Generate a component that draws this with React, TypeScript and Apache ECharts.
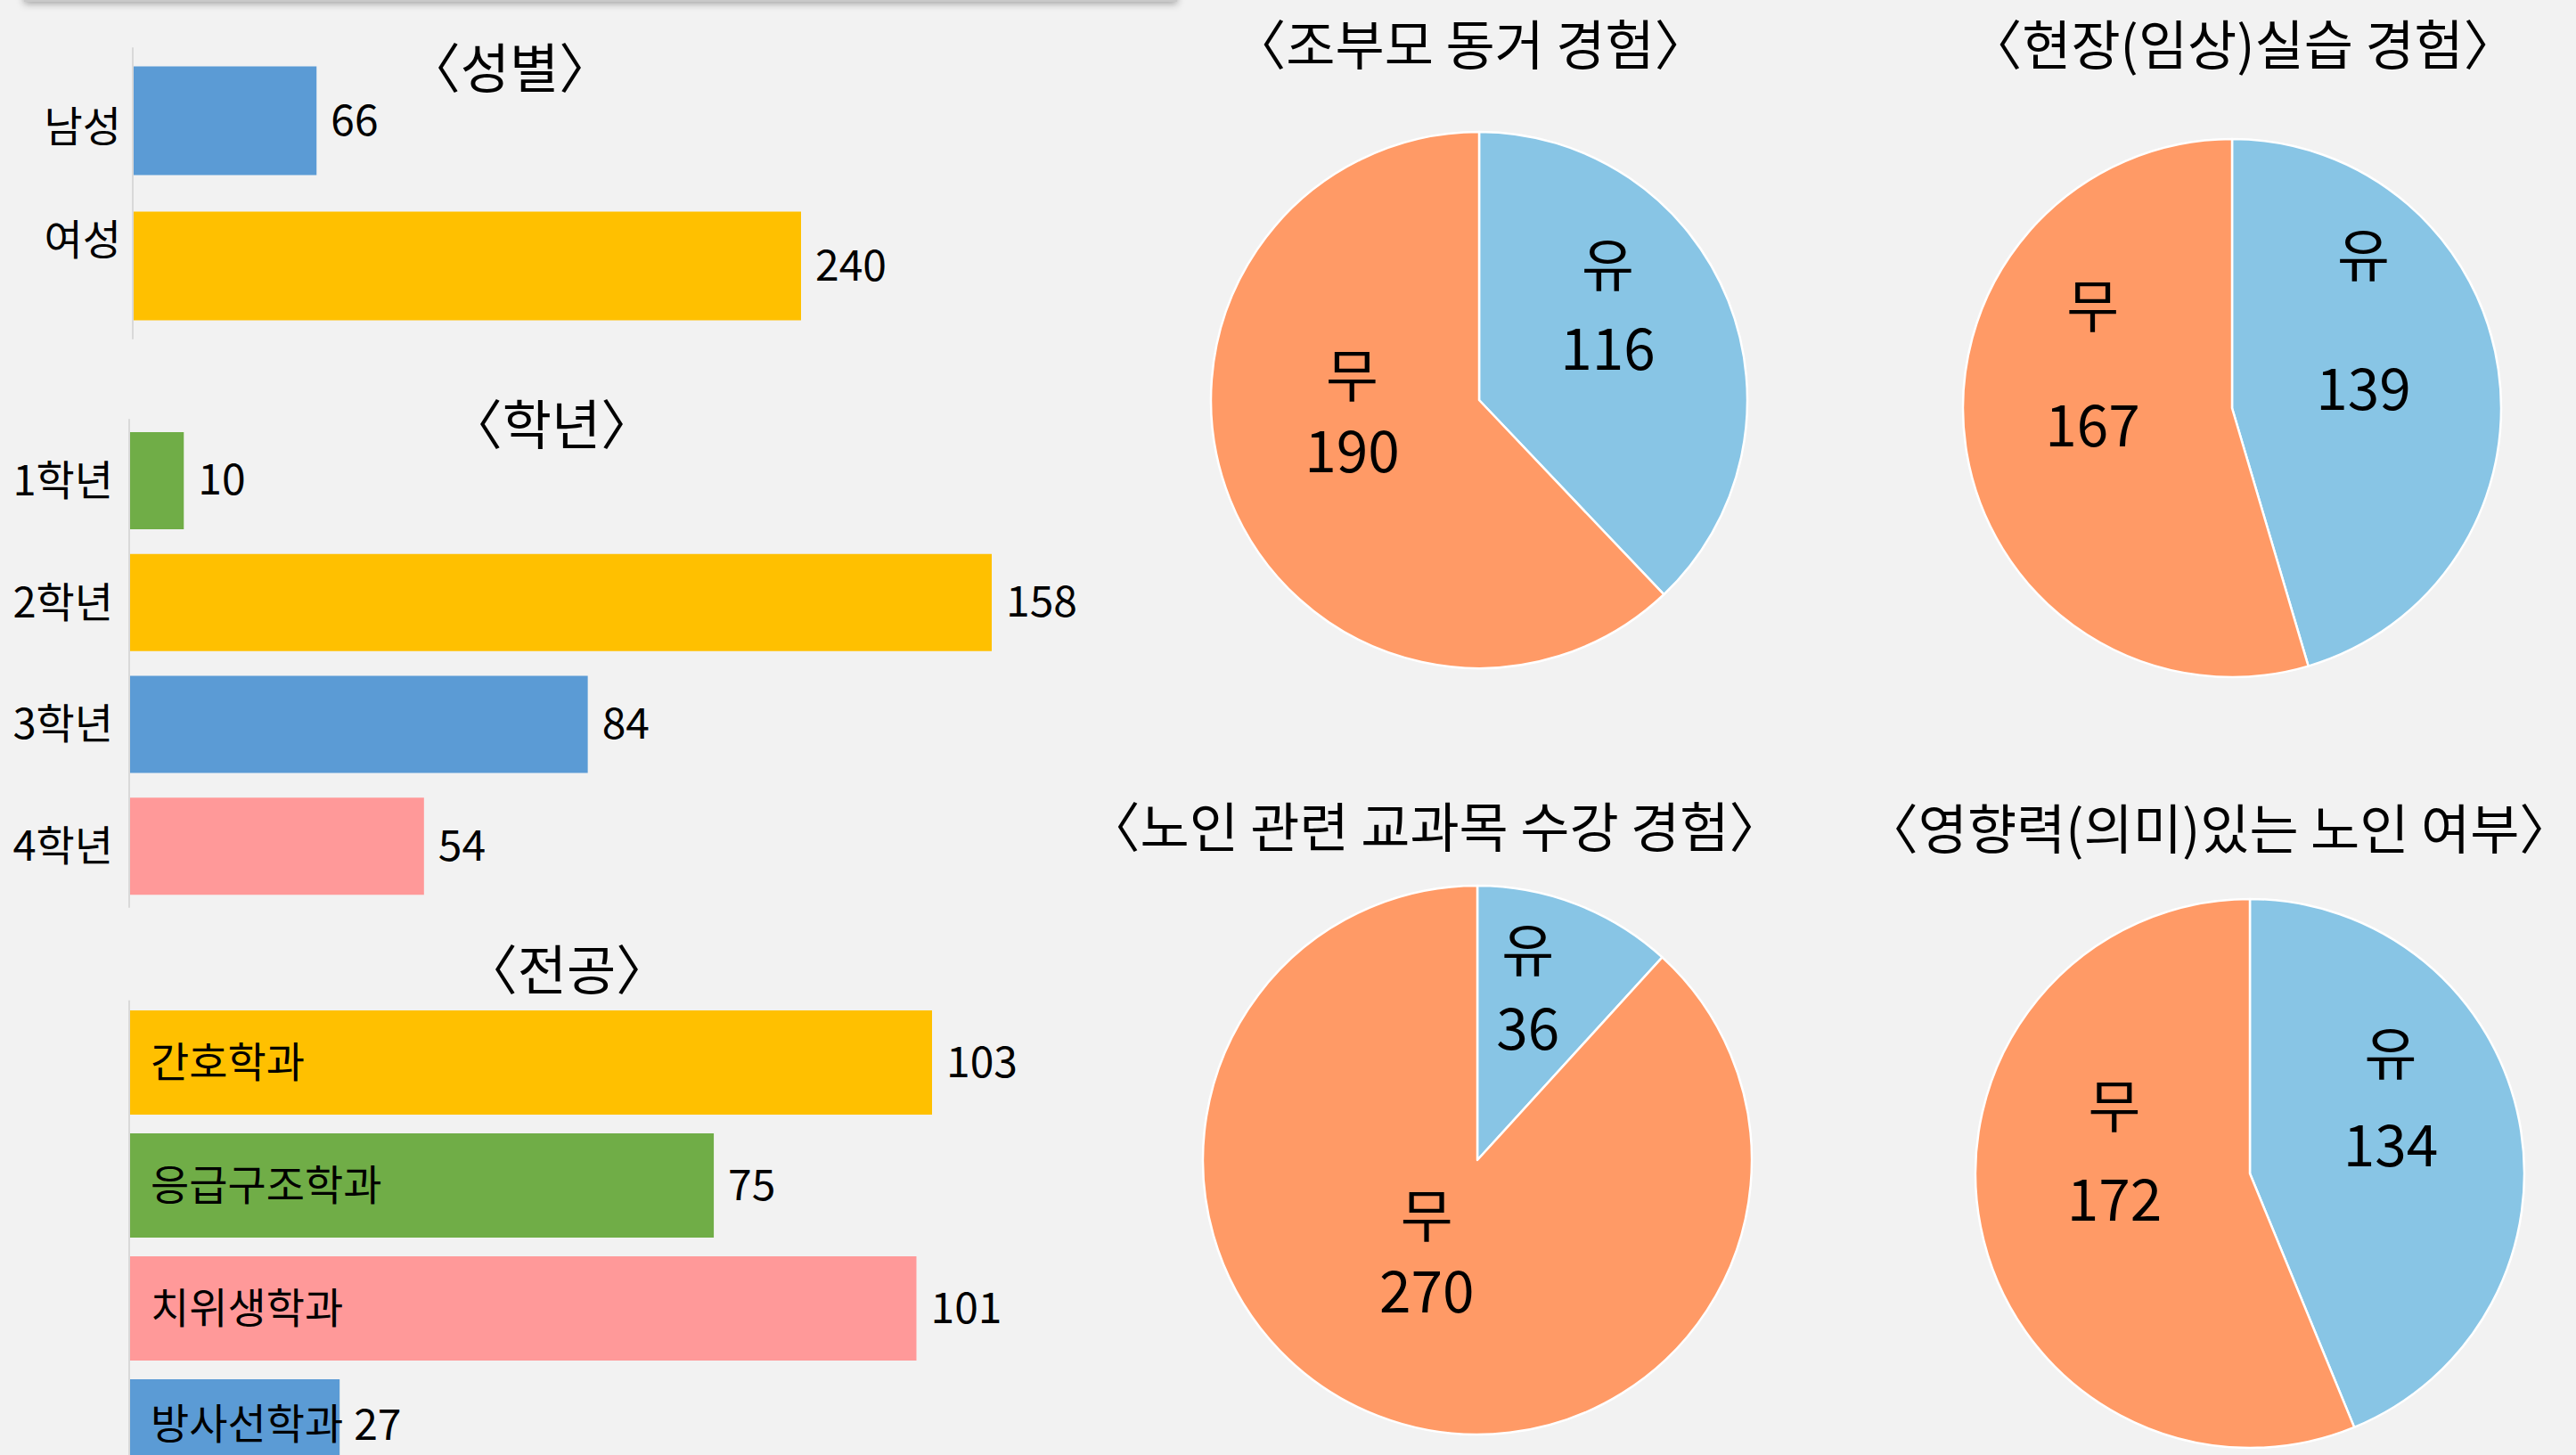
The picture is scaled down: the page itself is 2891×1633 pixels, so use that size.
import React, { useEffect, useRef } from "react";
import * as echarts from "echarts";

// ---------- data ----------
const genderCats = ["남성", "여성"];
const genderVals = [66, 240];
const gradeCats = ["1학년", "2학년", "3학년", "4학년"];
const gradeVals = [10, 158, 84, 54];
const majorCats = ["간호학과", "응급구조학과", "치위생학과", "방사선학과"];
const majorVals = [103, 75, 101, 27];

const pieNames = ["유", "무"];
const grandparentVals = [116, 190];
const practicumVals = [139, 167];
const courseVals = [36, 270];
const influenceVals = [134, 172];

const barTitles = ["〈성별〉", "〈학년〉", "〈전공〉"];
const pieTitles = [
  "〈조부모 동거 경험〉",
  "〈현장(임상)실습 경험〉",
  "〈노인 관련 교과목 수강 경험〉",
  "〈영향력(의미)있는 노인 여부〉",
];

// ---------- styles ----------
const FONT = '"Noto Sans CJK KR", "Noto Sans", sans-serif';
const BG = "#f2f2f2";
const BLUE = "#5B9BD5";
const YELLOW = "#FFC000";
const GREEN = "#70AD47";
const PINK = "#FF9999";
const PIE_BLUE = "#88C5E5";
const PIE_ORANGE = "#FF9A66";

const genderColors = [BLUE, YELLOW];
const gradeColors = [GREEN, YELLOW, BLUE, PINK];
const majorColors = [YELLOW, GREEN, PINK, BLUE];

const barGrids = [
  { left: 149, top: 54, width: 750, height: 326, barWidth: 122 },
  { left: 145, top: 471, width: 968, height: 547, barWidth: 109 },
  { left: 145, top: 1123.5, width: 901, height: 552, barWidth: 117 },
];
const barTitlePos = [
  [572, 72],
  [619, 472],
  [636, 1084],
];

const pieLayouts = [
  { center: [1660, 449], r: 301, title: [1650, 46], lh: [94, 85], dx: [2, 0], dy: [-52, -46] },
  { center: [2505, 458], r: 302, title: [2517, 46], lh: [150, 134], dx: [-5, -4], dy: [-79, -74] },
  { center: [1658, 1302], r: 308, title: [1610, 924], lh: [88, 85], dx: [0, 0], dy: [-50, -46] },
  { center: [2525, 1317], r: 308, title: [2490, 926], lh: [103, 105], dx: [4, 2], dy: [-57, -58] },
];

export default function App() {
  const ref = useRef<HTMLDivElement>(null);

  useEffect(() => {
    document.body.style.margin = "0";
    document.body.style.background = BG;
    if (!ref.current) return;
    const chart = echarts.init(ref.current, undefined, { renderer: "svg" });

    const barSets = [
      { cats: genderCats, vals: genderVals, colors: genderColors },
      { cats: gradeCats, vals: gradeVals, colors: gradeColors },
      { cats: majorCats, vals: majorVals, colors: majorColors },
    ];

    const grid = barGrids.map((g) => ({
      left: g.left,
      top: g.top,
      width: g.width,
      height: g.height,
      containLabel: false,
      outerBoundsMode: "none",
    }));

    const xAxis = barSets.map((s, i) => ({
      type: "value",
      gridIndex: i,
      min: 0,
      max: Math.max(...s.vals),
      show: false,
    }));

    const labelBase = { fontSize: 47, lineHeight: 44, color: "#000", fontFamily: FONT };

    const yAxis = barSets.map((s, i) => {
      const ax: any = {
        type: "category",
        gridIndex: i,
        data: s.cats,
        inverse: true,
        z: 10,
        axisLine: { show: true, lineStyle: { color: "#d9d9d9", width: 2 } },
        axisTick: { show: false },
        splitLine: { show: false },
        axisLabel: { ...labelBase, margin: 16 },
      };
      if (i === 0) {
        ax.axisLabel = {
          ...labelBase,
          margin: 13,
          formatter: (v: string, idx: number) => `{l${idx}|${v}}`,
          rich: {
            l0: { ...labelBase, padding: [6, 0, 0, 0] },
            l1: { ...labelBase, padding: [0, 0, 66, 0] },
          },
        };
      } else if (i === 1) {
        ax.axisLabel = {
          ...labelBase,
          margin: 18,
          formatter: (v: string) => `{a|${v}}`,
          rich: { a: { ...labelBase, padding: [0, 0, 8, 0] } },
        };
      } else {
        const last = s.cats.length - 1;
        ax.axisLabel = {
          ...labelBase,
          inside: true,
          margin: 24,
          formatter: (v: string, idx: number) => (idx === last ? `{b|${v}}` : `{a|${v}}`),
          rich: {
            a: { ...labelBase, padding: [0, 0, 8, 0] },
            b: { ...labelBase, padding: [0, 0, 24, 0] },
          },
        };
      }
      return ax;
    });

    const barSeries = barSets.map((s, i) => ({
      type: "bar",
      xAxisIndex: i,
      yAxisIndex: i,
      barWidth: barGrids[i].barWidth,
      silent: true,
      z: 2,
      data: s.vals.map((v, k) => {
        const item: any = { value: v, itemStyle: { color: s.colors[k] } };
        if (i === 2 && k === s.vals.length - 1) item.label = { offset: [0, -12] };
        return item;
      }),
      label: {
        show: true,
        position: "right",
        distance: 16,
        offset: [0, -5],
        fontSize: 48,
        lineHeight: 42,
        color: "#000",
        fontFamily: FONT,
      },
    }));

    const pieSets = [grandparentVals, practicumVals, courseVals, influenceVals];
    const pieSeries = pieSets.map((vals, i) => {
      const L = pieLayouts[i];
      return {
        type: "pie",
        center: L.center,
        radius: L.r,
        startAngle: 90,
        clockwise: true,
        silent: true,
        itemStyle: { borderColor: "#ffffff", borderWidth: 2.5 },
        label: {
          show: true,
          position: "inside",
          formatter: "{b}\n{c}",
          fontSize: 64,
          color: "#000",
          fontFamily: FONT,
        },
        labelLine: { show: false },
        labelLayout: (p: any) => ({ dx: L.dx[p.dataIndex], dy: L.dy[p.dataIndex] }),
        data: vals.map((v, k) => ({
          name: pieNames[k],
          value: v,
          itemStyle: { color: k === 0 ? PIE_BLUE : PIE_ORANGE },
          label: { lineHeight: L.lh[k] },
        })),
      };
    });

    const titleStyle = (text: string) => ({
      text,
      fill: "#000",
      fontSize: 60,
      fontFamily: FONT,
      align: "center",
      verticalAlign: "middle",
    });

    const graphic: any[] = [
      {
        type: "rect",
        shape: { x: 27, y: -30, width: 1294, height: 32 },
        style: {
          fill: "#c9c9c9",
          shadowBlur: 8,
          shadowColor: "rgba(0,0,0,0.35)",
          shadowOffsetY: 2,
        },
        silent: true,
      },
      ...barTitles.map((t, i) => ({
        type: "text",
        x: barTitlePos[i][0],
        y: barTitlePos[i][1],
        style: titleStyle(t),
        silent: true,
      })),
      ...pieTitles.map((t, i) => ({
        type: "text",
        x: pieLayouts[i].title[0],
        y: pieLayouts[i].title[1],
        style: titleStyle(t),
        silent: true,
      })),
    ];

    chart.setOption({
      animation: false,
      backgroundColor: BG,
      textStyle: { fontFamily: FONT },
      grid,
      xAxis,
      yAxis,
      series: [...barSeries, ...pieSeries],
      graphic,
    } as any);

    return () => chart.dispose();
  }, []);

  return <div ref={ref} style={{ width: 2891, height: 1633, background: BG }} />;
}
